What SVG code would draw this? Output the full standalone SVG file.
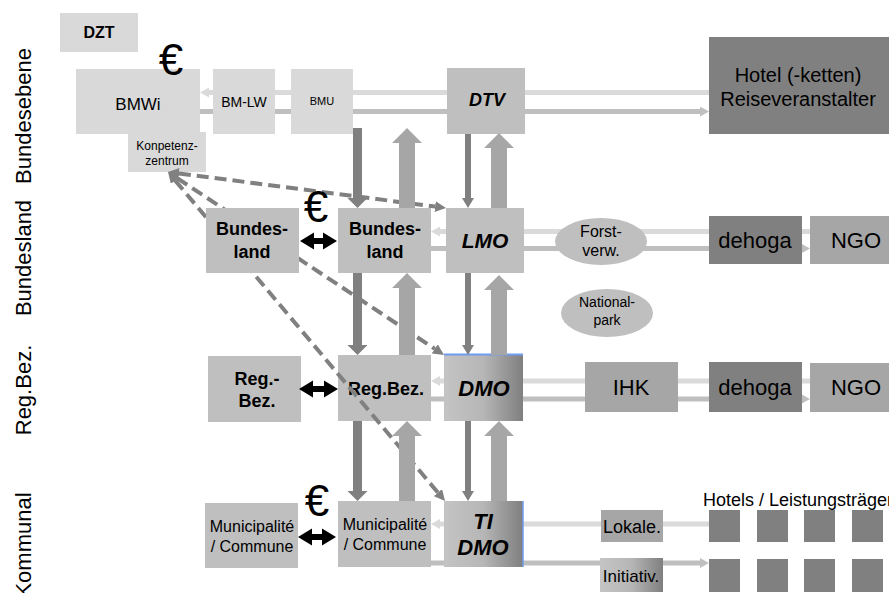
<svg xmlns="http://www.w3.org/2000/svg" width="889" height="593" viewBox="0 0 889 593">
  <defs>
    <style>
      text { font-family: "Liberation Sans", Arial, sans-serif; fill: #000; text-anchor: middle; }
      .lvl { font-size: 22px; }
      .c1 { fill: #d9d9d9; }
      .c2 { fill: #bfbfbf; }
      .c3 { fill: #a6a6a6; }
      .c4 { fill: #808080; }
      .b { font-weight: bold; }
      .bi { font-weight: bold; font-style: italic; }
      .hl { stroke: #dadada; stroke-width: 5; fill: none; }
      .hd { stroke: #bfbfbf; stroke-width: 5; fill: none; }
      .dash { stroke: #808080; stroke-width: 4; stroke-dasharray: 12 6; fill: none; marker-start: url(#dh); marker-end: url(#dh); }
      .down { fill: #808080; }
      .up { fill: #a6a6a6; }
      .euro { font-size: 44px; }
      .dbl { fill: #000; }
    </style>
    <linearGradient id="gdmo" x1="0" y1="0" x2="1" y2="0">
      <stop offset="0" stop-color="#c4c4c4"/>
      <stop offset="0.5" stop-color="#b6b6b6"/>
      <stop offset="1" stop-color="#7f7f7f"/>
    </linearGradient>
    <marker id="ahl" markerUnits="userSpaceOnUse" markerWidth="9" markerHeight="10" refX="0" refY="5" orient="auto-start-reverse" viewBox="0 0 9 10">
      <path d="M0,0 L9,5 L0,10 z" fill="#dadada"/>
    </marker>
    <marker id="ahd" markerUnits="userSpaceOnUse" markerWidth="9" markerHeight="10" refX="0" refY="5" orient="auto" viewBox="0 0 9 10">
      <path d="M0,0 L9,5 L0,10 z" fill="#bfbfbf"/>
    </marker>
    <marker id="dh" markerUnits="userSpaceOnUse" markerWidth="11" markerHeight="11" refX="0" refY="5.5" orient="auto-start-reverse" viewBox="0 0 11 11">
      <path d="M0,0 L11,5.5 L0,11 z" fill="#808080"/>
    </marker>
  </defs>

  <rect width="889" height="593" fill="#ffffff"/>

  <!-- level labels -->
  <g id="levels">
    <text class="lvl" transform="translate(31,116) rotate(-90)">Bundesebene</text>
    <text class="lvl" transform="translate(31,258) rotate(-90)">Bundesland</text>
    <text class="lvl" transform="translate(31,390) rotate(-90)">Reg.Bez.</text>
    <text class="lvl" transform="translate(31,545) rotate(-90)">Kommunal</text>
  </g>

  <!-- horizontal information / flow lines -->
  <g id="flows">
    <line class="hl" x1="209" y1="92.5" x2="709" y2="92.5" marker-start="url(#ahl)"/>
    <line class="hd" x1="200" y1="111.5" x2="700" y2="111.5" marker-end="url(#ahd)"/>
    <line class="hl" x1="440" y1="231.5" x2="810" y2="231.5" marker-start="url(#ahl)"/>
    <line class="hd" x1="431" y1="248.5" x2="801" y2="248.5" marker-end="url(#ahd)"/>
    <line class="hl" x1="440" y1="381" x2="810" y2="381" marker-start="url(#ahl)"/>
    <line class="hd" x1="431" y1="399" x2="801" y2="399" marker-end="url(#ahd)"/>
    <line class="hl" x1="440" y1="524" x2="709" y2="524" marker-start="url(#ahl)"/>
    <line class="hd" x1="431" y1="563" x2="700" y2="563" marker-end="url(#ahd)"/>
  </g>

  <!-- federal level -->
  <g id="dzt">
    <rect class="c1" x="60" y="13" width="78" height="39"/>
    <text class="b" x="99" y="38" font-size="16">DZT</text>
  </g>
  <g id="bmwi">
    <rect class="c1" x="76" y="69" width="124" height="65"/>
    <text x="138" y="110" font-size="17">BMWi</text>
  </g>
  <g id="kompetenzzentrum">
    <rect class="c1" x="128" y="132" width="78" height="40"/>
    <text x="167" y="150" font-size="12">Konpetenz-</text>
    <text x="167" y="165" font-size="12">zentrum</text>
  </g>
  <g id="bmlw">
    <rect class="c1" x="213" y="69" width="62" height="65"/>
    <text x="244" y="107" font-size="14">BM-LW</text>
  </g>
  <g id="bmu">
    <rect class="c1" x="291" y="69" width="62" height="65"/>
    <text x="322" y="105" font-size="11">BMU</text>
  </g>
  <g id="dtv">
    <rect class="c2" x="447" y="68" width="78" height="66"/>
    <text class="bi" x="487" y="106" font-size="18">DTV</text>
  </g>
  <g id="hotel">
    <rect class="c4" x="709" y="37" width="180" height="97"/>
    <text x="798" y="82" font-size="20" fill="#1a1a1a">Hotel (-ketten)</text>
    <text x="798" y="106" font-size="20" fill="#1a1a1a">Reiseveranstalter</text>
  </g>

  <!-- state level -->
  <g id="bundesland-b">
    <rect class="c2" x="338" y="208" width="93" height="65"/>
    <text class="b" x="385" y="235" font-size="18">Bundes-</text>
    <text class="b" x="385" y="258" font-size="18">land</text>
  </g>
  <g id="lmo">
    <rect class="c2" x="446" y="208" width="78" height="65"/>
    <text class="bi" x="485" y="248" font-size="21">LMO</text>
  </g>
  <g id="forstverw">
    <ellipse cx="601" cy="241.5" rx="46" ry="23.5" fill="#bfbfbf"/>
    <text x="601" y="237" font-size="16">Forst-</text>
    <text x="601" y="256" font-size="16">verw.</text>
  </g>
  <g id="nationalpark">
    <ellipse cx="607" cy="313" rx="46" ry="24" fill="#bfbfbf"/>
    <text x="607" y="307" font-size="14">National-</text>
    <text x="607" y="325" font-size="14">park</text>
  </g>
  <g id="dehoga-land">
    <rect class="c4" x="709" y="216" width="93" height="48"/>
    <text x="755" y="248" font-size="22">dehoga</text>
  </g>
  <g id="ngo-land">
    <rect class="c3" x="810" y="216" width="79" height="48"/>
    <text x="856" y="248" font-size="22">NGO</text>
  </g>

  <!-- district level -->
  <g id="regbez-a">
    <rect class="c2" x="208" y="356" width="93" height="66"/>
    <text class="b" x="257" y="385" font-size="18">Reg.-</text>
    <text class="b" x="257" y="407" font-size="18">Bez.</text>
  </g>
  <g id="regbez-b">
    <rect class="c2" x="338" y="355" width="93" height="66"/>
    <text class="b" x="386" y="395" font-size="18">Reg.Bez.</text>
  </g>
  <g id="dmo">
    <rect x="444" y="355" width="79" height="66" fill="url(#gdmo)"/>
    <line x1="444" y1="354.5" x2="523" y2="354.5" stroke="#6f9cf0" stroke-width="2"/>
    <text class="bi" x="484" y="396" font-size="22">DMO</text>
  </g>
  <g id="ihk">
    <rect class="c3" x="585" y="362" width="93" height="50"/>
    <text x="631" y="395" font-size="22">IHK</text>
  </g>
  <g id="dehoga-reg">
    <rect class="c4" x="709" y="362" width="93" height="50"/>
    <text x="755" y="395" font-size="22">dehoga</text>
  </g>
  <g id="ngo-reg">
    <rect class="c3" x="810" y="363" width="79" height="49"/>
    <text x="856" y="395" font-size="22">NGO</text>
  </g>

  <!-- municipal level -->
  <g id="commune-a">
    <rect class="c2" x="205" y="503" width="93" height="65"/>
    <text x="252" y="532" font-size="16">Municipalité</text>
    <text x="252" y="552" font-size="16">/ Commune</text>
  </g>
  <g id="commune-b">
    <rect class="c2" x="338" y="501" width="93" height="66"/>
    <text x="385" y="530" font-size="16">Municipalité</text>
    <text x="385" y="550" font-size="16">/ Commune</text>
  </g>
  <g id="ti-dmo">
    <rect x="444" y="501" width="79" height="66" fill="url(#gdmo)"/>
    <line x1="523" y1="501" x2="523" y2="567" stroke="#6f9cf0" stroke-width="1.5"/>
    <text class="bi" x="483" y="529" font-size="22">TI</text>
    <text class="bi" x="483" y="555" font-size="22">DMO</text>
  </g>
  <g id="lokale">
    <rect class="c3" x="601" y="510" width="62" height="32"/>
    <text x="632" y="533" font-size="18">Lokale.</text>
  </g>
  <g id="initiativ">
    <rect x="600" y="558" width="63" height="34" fill="url(#gdmo)"/>
    <text x="631" y="582" font-size="17">Initiativ.</text>
  </g>
  <g id="leistungstraeger">
    <text x="703" y="506" font-size="18" style="text-anchor:start">Hotels / Leistungsträger</text>
    <rect class="c4" x="709" y="510" width="31" height="32"/>
    <rect class="c4" x="757" y="510" width="31" height="32"/>
    <rect class="c4" x="804" y="510" width="31" height="32"/>
    <rect class="c4" x="852" y="510" width="31" height="32"/>
    <rect class="c4" x="709" y="559" width="31" height="33"/>
    <rect class="c4" x="757" y="559" width="31" height="33"/>
    <rect class="c4" x="804" y="559" width="31" height="33"/>
    <rect class="c4" x="852" y="559" width="31" height="33"/>
  </g>

  <!-- dashed links to the competence centre -->
  <g id="links">
    <line class="dash" x1="178.9" y1="173.4" x2="435.1" y2="206.6"/>
    <line class="dash" x1="177.2" y1="178.1" x2="434.8" y2="348.9"/>
    <line class="dash" x1="175.1" y1="180.4" x2="437.9" y2="492.6"/>
  </g>

  <!-- vertical top-down / bottom-up arrows -->
  <g id="vertical">
    <polygon class="down" points="353,128 362,128 362,198 367.5,198 357.5,208 347.5,198 353,198"/>
    <polygon class="down" points="353,273 362,273 362,345 367.5,345 357.5,355 347.5,345 353,345"/>
    <polygon class="down" points="353,421 362,421 362,491 367.5,491 357.5,501 347.5,491 353,491"/>
    <polygon class="up" points="399,208 415,208 415,143 422,143 407,128 392,143 399,143"/>
    <polygon class="up" points="399,355 415,355 415,288 422,288 407,273 392,288 399,288"/>
    <polygon class="up" points="399,501 415,501 415,436 422,436 407,421 392,436 399,436"/>
    <polygon class="down" points="465,134 471,134 471,198 474,198 468,208 462,198 465,198"/>
    <polygon class="down" points="465,273 471,273 471,345 474,345 468,355 462,345 465,345"/>
    <polygon class="down" points="465,421 471,421 471,491 474,491 468,501 462,491 465,491"/>
    <polygon class="up" points="491,208 507,208 507,148 514,148 499,133 484,148 491,148"/>
    <polygon class="up" points="491,355 507,355 507,290 514,290 499,275 484,290 491,290"/>
    <polygon class="up" points="491,501 507,501 507,436 514,436 499,421 484,436 491,436"/>
  </g>

  <!-- state box sits above the dashed links -->
  <g id="bundesland-a">
    <rect class="c2" x="206" y="208" width="93" height="65"/>
    <text class="b" x="252" y="235" font-size="18">Bundes-</text>
    <text class="b" x="252" y="258" font-size="18">land</text>
  </g>

  <!-- funding exchange -->
  <g id="funding">
    <text class="euro" x="171" y="75">€</text>
    <text class="euro" x="316" y="222">€</text>
    <text class="euro" x="317" y="516">€</text>
    <polygon class="dbl" points="300,241 314,232.5 314,238 323,238 323,232.5 337,241 323,249.5 323,244 314,244 314,249.5"/>
    <polygon class="dbl" points="299,389 313,380.5 313,386 324,386 324,380.5 338,389 324,397.5 324,392 313,392 313,397.5"/>
    <polygon class="dbl" points="298,537 312,528.5 312,534 322,534 322,528.5 336,537 322,545.5 322,540 312,540 312,545.5"/>
  </g>
</svg>
